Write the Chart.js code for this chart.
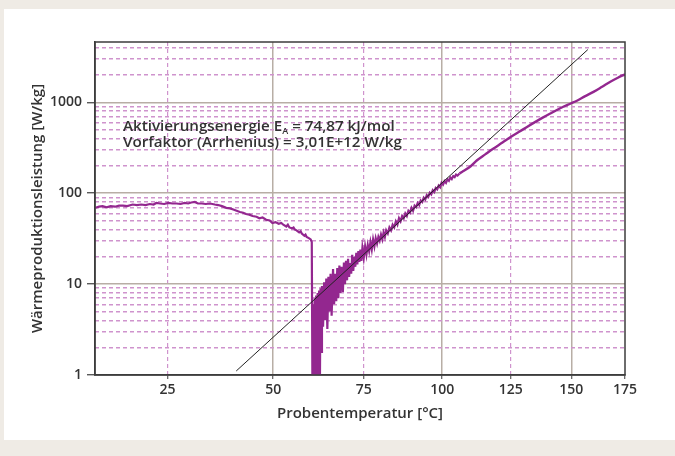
<!DOCTYPE html>
<html>
<head>
<meta charset="utf-8">
<script src="https://cdn.jsdelivr.net/npm/chart.js@4/dist/chart.umd.min.js"></script>
<style>
  html, body { margin: 0; padding: 0; background: #efebe5; }
  #panel { position: absolute; left: 4px; top: 9px; width: 671px; height: 431px; background: #fff; }
  #wrap { position: absolute; left: 0; top: 0; width: 675px; height: 456px; }
</style>
</head>
<body>
<div id="panel"></div>
<div id="wrap"><canvas id="arrhenius"></canvas></div>
<script>
// Achsen (Temperatur in °C, Leistung in W/kg)
const tempRange = [10, 175];
const powerRange = [1, 4600];
const xTickTemps = [25, 50, 75, 100, 125, 150, 175];
const xMajorTemps = [50, 100, 150];
const xMinorTemps = [25, 75, 125];
const yTicks = [1, 10, 100, 1000];
const yMinor = [2, 3, 4, 5, 6, 7, 8, 9, 20, 30, 40, 50, 60, 70, 80, 90,
  200, 300, 400, 500, 600, 700, 800, 900, 2000, 3000, 4000];

// Messkurve [°C, W/kg] (verrauschter Teil)
const messungRauschen = [
  [10.1,69],[10.8,71],[11.5,72],[12.3,70],[13.1,72],[14,71],[14.8,73],[15.6,73],[16.5,72],[17.6,75],
  [18.5,74],[19.4,75],[20.3,74],[21.2,76],[22,75],[22.6,78],[23.4,77],[24.3,76],[25.2,78],[26.1,77],
  [27,77],[27.9,76],[28.8,78],[29.6,77],[30.3,79],[31.1,80],[31.8,77],[32.7,77],[33.6,76],[34.6,77],
  [35.7,75],[36.5,74],[37.4,72],[38.4,69],[39.3,68],[40.1,66],[40.9,64],[41.7,62],[42.5,61],[43.2,59],
  [44,58],[44.8,56],[45.8,55],[46.5,53],[47.3,54],[48.2,51],[49.1,50],[49.8,47],[50.6,48],[51.4,46],
  [52.1,47],[52.6,45],[53.4,43],[53.8,45],[54.2,42],[54.9,41],[55.3,42],[55.6,40],[56.1,39],[56.8,37],
  [57.2,38],[57.5,36],[58.2,34],[58.5,35],[58.8,33],[59.4,32],[59.9,31],[60.2,29],[60.4,0.5],
  [60.6,6],[60.8,0.5],[61.0,7],[61.2,0.6],[61.4,7.5],[61.6,0.5],[61.8,8],[62.0,0.7],[62.2,8.5],[62.4,0.5],
  [62.6,9],[62.8,1.8],[63.0,9.5],[63.3,3.4],[63.6,10.5],[63.9,4],[64.2,11.5],[64.5,3.2],[64.8,12],[65.1,5],
  [65.4,13],[65.7,4.5],[66.1,14.6],[66.4,6],[66.7,13],[67.0,6.5],[67.3,15],[67.6,7],[67.9,16],[68.2,8],
  [68.5,15.5],[68.9,8.2],[69.2,17.3],[69.5,10],[69.8,18],[70.1,11],[70.4,19],[70.7,12],[71.0,17],[71.3,13],
  [71.6,21],[71.9,14],[72.2,20],[72.5,15.5],[72.8,22],[73.1,16.5],[73.4,23],[73.7,17.5],[74.0,24],[74.3,18],
  [74.6,25],[75.0,19.5],[75.4,26],[75.8,21],[76.2,27],[76.6,23],[77.0,29],[77.4,24],[77.8,31],[78.2,26],
  [78.6,32],[79.0,28],[79.4,33],[79.8,30],[80.2,35],[80.6,31],[81.0,37],[81.4,33],[81.8,39],[82.3,36],
  [82.8,42],[83.3,39],[83.8,45],[84.3,42],[84.8,49],[85.3,45],[85.8,53],[86.3,49],[86.8,56],[87.3,53],
  [87.8,60],[88.3,56],[88.8,64],[89.3,61],[89.8,69],[90.3,64],[90.8,73],[91.3,70],[91.8,78],[92.3,74],
  [92.8,83],[93.3,80],[93.8,89],[94.3,85],[94.8,95],[95.3,91],[95.8,101],[96.3,97],[96.8,108],[97.3,103],
  [97.8,114],[98.3,110],[98.8,121],[99.3,116],[99.8,130],[100.3,124],[100.8,136],[101.3,130],[101.8,142],[102.3,137],
  [102.8,149],[103.3,143],[103.8,154],[104.3,150],[104.8,160],[105.3,156],[106,165]
];

// Messkurve, glatter Teil
const messungGlatt = [
  [106,165],[107,172],[110,198],[112.3,230],[115.3,267],[118.4,310],[121.8,360],[124.8,412],[128.1,470],
  [131.4,535],[134.8,608],[138.2,686],[141.8,772],[145.2,860],[150,975],[152.5,1040],[156,1160],[160,1300],
  [164,1480],[167.9,1680],[171.5,1860],[175,2030]
];

// Arrhenius-Gerade [°C, W/kg]
const arrheniusFit = [[40.8, 1.107], [157.4, 3795]];

const toX = t => 1000 / (t + 273.15);
const toC = x => Math.round(1000 / x - 273.15);

const darkAxis = "#3d3d3d";
const majorGrid = "#b8aea5";
const minorGrid = "#cf93cd";
const purple = "#93278f";
const textColor = "#333333";
const fontFamily = "'Open Sans', 'Noto Sans', sans-serif";

const framePlugin = {
  id: "frame",
  afterDraw(chart) {
    const { ctx, chartArea: a } = chart;
    ctx.save();
    ctx.strokeStyle = darkAxis;
    ctx.lineWidth = 1.5;
    ctx.strokeRect(a.left, a.top, a.right - a.left, a.bottom - a.top);

    ctx.fillStyle = textColor;
    ctx.textBaseline = "alphabetic";
    const x0 = a.left + 28;
    const y1 = a.top + 89, y2 = a.top + 105;
    ctx.font = "600 15.2px " + fontFamily;
    let s = "Aktivierungsenergie E";
    ctx.fillText(s, x0, y1);
    let w = ctx.measureText(s).width;
    ctx.font = "600 9px " + fontFamily;
    ctx.fillText("A", x0 + w, y1 + 3);
    w += ctx.measureText("A").width;
    ctx.font = "600 15.2px " + fontFamily;
    ctx.fillText(" = 74,87 kJ/mol", x0 + w, y1);
    ctx.fillText("Vorfaktor (Arrhenius) = 3,01E+12 W/kg", x0, y2);
    ctx.restore();
  }
};

const tickFont = { family: fontFamily, size: 14, weight: "600" };
const titleFont = { family: fontFamily, size: 15, weight: "600" };
const asPoints = arr => arr.map(p => ({ x: toX(p[0]), y: p[1] }));

new Chart(document.getElementById("arrhenius"), {
  type: "scatter",
  data: {
    datasets: [
      {
        label: "Arrhenius",
        data: asPoints(arrheniusFit),
        showLine: true,
        borderColor: "#222222",
        borderWidth: 1,
        pointRadius: 0,
        order: 0
      },
      {
        label: "Messung",
        data: asPoints(messungRauschen),
        showLine: true,
        borderColor: purple,
        borderWidth: 2.2,
        pointRadius: 0,
        tension: 0,
        order: 1
      },
      {
        label: "Messung (glatt)",
        data: asPoints(messungGlatt),
        showLine: true,
        borderColor: purple,
        borderWidth: 2.4,
        pointRadius: 0,
        cubicInterpolationMode: "monotone",
        order: 1
      }
    ]
  },
  options: {
    responsive: true,
    maintainAspectRatio: false,
    animation: false,
    events: [],
    layout: { padding: { left: 0, top: 42, right: 50, bottom: 0 } },
    plugins: { legend: { display: false }, tooltip: { enabled: false } },
    scales: {
      x: {
        type: "linear",
        reverse: true,
        min: toX(tempRange[1]),
        max: toX(tempRange[0]),
        afterBuildTicks: s => { s.ticks = xTickTemps.map(t => ({ value: toX(t) })); },
        afterFit: s => { s.height = 81; },
        ticks: { callback: v => String(toC(v)), font: tickFont, color: textColor, padding: 3, maxRotation: 0, autoSkip: false },
        grid: {
          color: c => (c.tick && xMajorTemps.includes(toC(c.tick.value))) ? majorGrid : "rgba(0,0,0,0)",
          lineWidth: 1.5,
          tickColor: darkAxis,
          tickLength: 4,
          tickWidth: 1
        },
        border: { color: darkAxis, width: 1.5 },
        title: { display: true, text: "Probentemperatur [°C]", font: titleFont, color: textColor, padding: { top: 0, bottom: 33 } }
      },
      x2: {
        type: "linear",
        position: "bottom",
        reverse: true,
        min: toX(tempRange[1]),
        max: toX(tempRange[0]),
        afterBuildTicks: s => { s.ticks = xMinorTemps.map(t => ({ value: toX(t) })); },
        afterFit: s => { s.height = 0; },
        ticks: { display: false },
        grid: { color: minorGrid, lineWidth: 1.2, drawTicks: false },
        border: { display: false, dash: [4, 3] }
      },
      y: {
        type: "logarithmic",
        min: powerRange[0],
        max: powerRange[1],
        afterBuildTicks: s => { s.ticks = yTicks.map(v => ({ value: v })); },
        afterFit: s => { s.width = 95; },
        ticks: { callback: v => String(v), font: tickFont, color: textColor, padding: 5, autoSkip: false },
        grid: {
          color: c => (c.tick && c.tick.value > 1) ? majorGrid : "rgba(0,0,0,0)",
          lineWidth: 1.5,
          tickColor: darkAxis,
          tickLength: 8,
          tickWidth: 1.2
        },
        border: { color: darkAxis, width: 1.5 },
        title: { display: true, text: "Wärmeproduktionsleistung [W/kg]", font: titleFont, color: textColor, padding: { top: 29, bottom: 0 } }
      },
      y2: {
        type: "logarithmic",
        position: "left",
        min: powerRange[0],
        max: powerRange[1],
        afterBuildTicks: s => { s.ticks = yMinor.map(v => ({ value: v })); },
        afterFit: s => { s.width = 0; },
        ticks: { display: false },
        grid: { color: minorGrid, lineWidth: 1.5, drawTicks: false },
        border: { display: false, dash: [4, 3] }
      }
    }
  },
  plugins: [framePlugin]
});
</script>
</body>
</html>
